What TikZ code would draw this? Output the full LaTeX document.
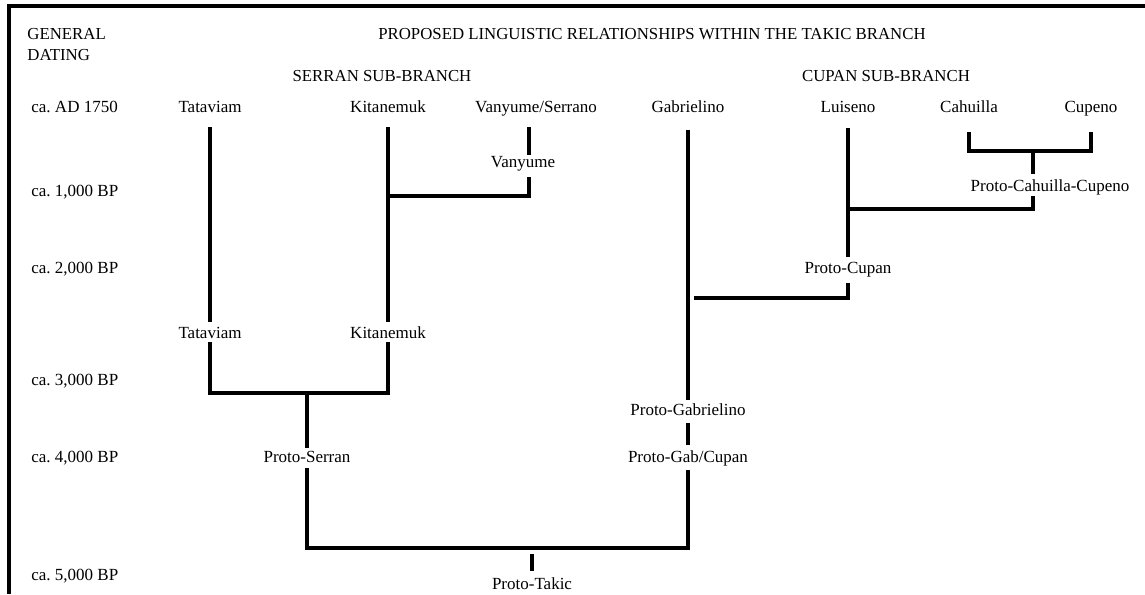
\documentclass[tikz,border=0pt]{standalone}
\usepackage{fontspec}
\setmainfont{Liberation Serif}
\frenchspacing
\begin{document}
\begin{tikzpicture}[x=0.5pt,y=-0.5pt,
  lbl/.style={inner sep=0pt, font=\fontsize{8.5}{10}\selectfont, text height=6.6pt, text depth=1.5pt},
  hdr/.style={inner sep=0pt, font=\fontsize{8.4}{10.5}\selectfont, text height=6.6pt, text depth=1.5pt},
  br/.style={line width=1.6pt, line join=miter},
  frm/.style={line width=1.8pt}]
\useasboundingbox (0,0) rectangle (1145,594);
\fill[white] (0,0) rectangle (1145,594);
\draw[frm] (1145,6) -- (9,6) -- (9,594);

% headings
\node[hdr, anchor=west] (gen) at (27,34) {GENERAL};
\node[hdr, anchor=west] (dat) at (27,55) {DATING};
\node[hdr] (title) at (652,34) {PROPOSED LINGUISTIC RELATIONSHIPS WITHIN THE TAKIC BRANCH};
\node[hdr] (serran) at (382,76) {SERRAN SUB-BRANCH};
\node[hdr] (cupan) at (886,76) {CUPAN SUB-BRANCH};

% dates
\node[lbl, anchor=west] (d0) at (31,107) {ca. AD 1750};
\node[lbl, anchor=west] (d1) at (31,191) {ca. 1,000 BP};
\node[lbl, anchor=west] (d2) at (31,268) {ca. 2,000 BP};
\node[lbl, anchor=west] (d3) at (31,380) {ca. 3,000 BP};
\node[lbl, anchor=west] (d4) at (31,457) {ca. 4,000 BP};
\node[lbl, anchor=west] (d5) at (31,575) {ca. 5,000 BP};

% language labels
\node[lbl] (tat1) at (210,107) {Tataviam};
\node[lbl] (kit1) at (388,107) {Kitanemuk};
\node[lbl] (vs)   at (536,107) {Vanyume/Serrano};
\node[lbl] (gab)  at (688,107) {Gabrielino};
\node[lbl] (lui)  at (848,107) {Luiseno};
\node[lbl] (cah)  at (969,107) {Cahuilla};
\node[lbl] (cup)  at (1091,107) {Cupeno};
\node[lbl] (van)  at (523,162) {Vanyume};
\node[lbl] (pcc)  at (1050,186) {Proto-Cahuilla-Cupeno};
\node[lbl] (pcup) at (848,268) {Proto-Cupan};
\node[lbl] (tat2) at (210,333) {Tataviam};
\node[lbl] (kit2) at (388,333) {Kitanemuk};
\node[lbl] (pgab) at (688,410) {Proto-Gabrielino};
\node[lbl] (pser) at (307,457) {Proto-Serran};
\node[lbl] (pgc)  at (688,457) {Proto-Gab/Cupan};
\node[lbl] (ptak) at (532,584) {Proto-Takic};

% junction coordinates
\coordinate (vx) at (529,0);
\coordinate (vj) at (529,196);
\coordinate (kj) at (388,196);
\coordinate (ts) at (210,393);
\coordinate (ks) at (388,393);
\coordinate (sj) at (307,393);
\coordinate (bl) at (307,548);
\coordinate (brr) at (688,548);
\coordinate (tk) at (532,554);
\coordinate (gj) at (694,298);
\coordinate (cj) at (848,298);
\coordinate (lj) at (848,209);
\coordinate (pj) at (1033,209);
\coordinate (cl) at (969,151);
\coordinate (cr) at (1091,151);
\coordinate (cm) at (1033,151);

% Serran sub-branch
\draw[br, shorten <=10pt, shorten >=5.5pt] (tat1.center) -- (tat2.center);
\draw[br, shorten <=10pt, shorten >=5.5pt] (kit1.center) -- (kit2.center);
\draw[br, shorten <=4.5pt, shorten >=4.5pt] (tat2.center) -- (ts) -- (ks) -- (kit2.center);
\draw[br, shorten >=4.5pt] (sj) -- (pser.center);
\draw[br, shorten <=10pt, shorten >=3.5pt] (vs -| vx) -- (van -| vx);
\draw[br, shorten <=7.5pt] (van -| vx) -- (vj) -- (kj);

% root
\draw[br, shorten <=5.5pt, shorten >=6.5pt] (pser.center) -- (bl) -- (brr) -- (pgc.center);
\draw[br, shorten >=6.5pt] (tk) -- (ptak.center);

% Gabrielino / Cupan
\draw[br, shorten <=11.5pt, shorten >=5pt] (gab.center) -- (pgab.center);
\draw[br, shorten <=6.5pt, shorten >=6pt] (pgab.center) -- (pgc.center);
\draw[br, shorten >=7.5pt] (gj) -- (cj) -- (pcup.center);
\draw[br, shorten <=10.5pt, shorten >=5.5pt] (lui.center) -- (pcup.center);
\draw[br, shorten >=5pt] (lj) -- (pj) -- (pcc.center -| pj);
\draw[br, shorten <=12.5pt, shorten >=12.5pt] (cah.center) -- (cl) -- (cr) -- (cup.center);
\draw[br, shorten >=6pt] (cm) -- (pcc.center -| cm);
\end{tikzpicture}
\end{document}
